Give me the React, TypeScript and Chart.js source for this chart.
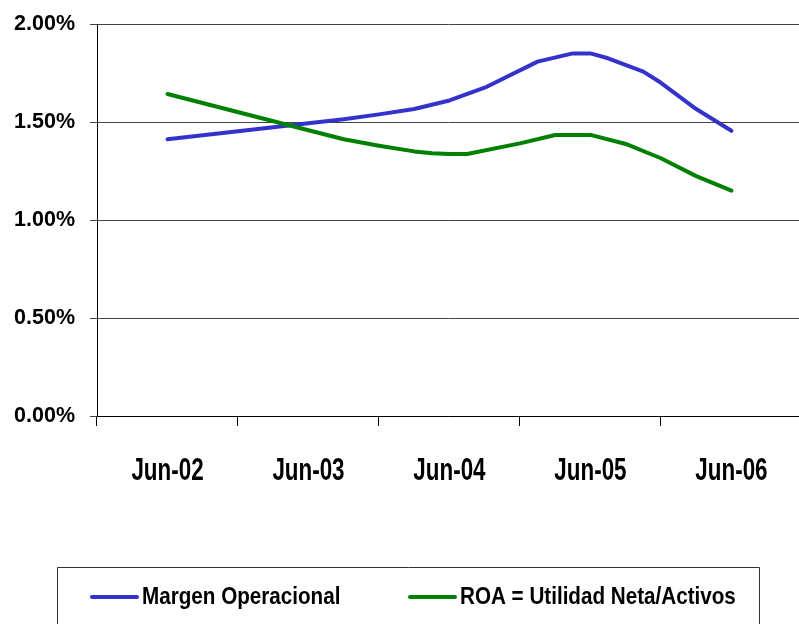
import React, { useEffect, useRef } from 'react';
import { Chart, registerables } from 'chart.js';

Chart.register(...registerables);

// Months counted from Jun-02
const tickMonths = [0, 12, 24, 36, 48];
const tickLabels = ['Jun-02', 'Jun-03', 'Jun-04', 'Jun-05', 'Jun-06'];

const seriesNames = ['Margen Operacional', 'ROA = Utilidad Neta/Activos'];
const seriesColors = ['#3333CC', '#008000'];

const margenMonths = [0, 12, 15, 18, 21, 24, 27, 31.5, 34.5, 36, 37.5, 40.5, 42, 45, 48];
const margenValues = [1.412, 1.494, 1.514, 1.539, 1.566, 1.61, 1.675, 1.808, 1.85, 1.85, 1.825, 1.757, 1.7, 1.566, 1.455];

const roaMonths = [0, 12, 15, 18, 21, 22.5, 24, 25.5, 30, 33, 36, 39, 42, 45, 48];
const roaValues = [1.643, 1.458, 1.412, 1.379, 1.35, 1.34, 1.337, 1.337, 1.391, 1.434, 1.434, 1.388, 1.315, 1.224, 1.15];

const SANS = "'Liberation Sans', Arial, sans-serif";

// x-axis labels, drawn condensed at the scale's tick positions
const condensedAxisLabels = {
  id: 'condensedAxisLabels',
  afterDraw(chart: any) {
    const xs = chart.scales.x;
    const ctx = chart.ctx;
    ctx.save();
    ctx.fillStyle = '#000';
    ctx.font = `bold 32px ${SANS}`;
    ctx.textAlign = 'center';
    ctx.textBaseline = 'alphabetic';
    const baseline = xs.top + 64;
    xs.ticks.forEach((t: any, i: number) => {
      const px = xs.getPixelForValue(t.value);
      ctx.save();
      ctx.translate(px, baseline);
      ctx.scale(0.7, 1);
      ctx.fillText(tickLabels[i], 0, 0);
      ctx.restore();
    });
    ctx.restore();
  },
};

// legend with frame
const framedLegend = {
  id: 'framedLegend',
  afterDraw(chart: any) {
    const ctx = chart.ctx;
    const ca = chart.chartArea;
    const cy = ca.bottom + 181;
    const frameLeft = 57.5;
    const frameRight = 759.5;
    const frameTop = Math.round(cy - 30) + 0.5;
    ctx.save();
    ctx.strokeStyle = '#333';
    ctx.lineWidth = 1;
    ctx.beginPath();
    ctx.moveTo(frameLeft, chart.height + 5);
    ctx.lineTo(frameLeft, frameTop);
    ctx.lineTo(frameRight, frameTop);
    ctx.lineTo(frameRight, chart.height + 5);
    ctx.stroke();

    const itemStarts = [92, 410];
    chart.data.datasets.forEach((ds: any, i: number) => {
      const x0 = itemStarts[i];
      ctx.strokeStyle = ds.borderColor;
      ctx.lineWidth = 4;
      ctx.lineCap = 'round';
      ctx.beginPath();
      ctx.moveTo(x0, cy);
      ctx.lineTo(x0 + 45, cy);
      ctx.stroke();
      ctx.save();
      ctx.fillStyle = '#000';
      ctx.font = `bold 24px ${SANS}`;
      ctx.textAlign = 'left';
      ctx.textBaseline = 'middle';
      ctx.translate(x0 + 50, cy);
      ctx.scale(0.86, 1);
      ctx.fillText(ds.label, 0, 0);
      ctx.restore();
    });
    ctx.restore();
  },
};

export default function App() {
  const ref = useRef<HTMLCanvasElement | null>(null);

  useEffect(() => {
    if (!ref.current) return;
    const chart = new Chart(ref.current, {
      type: 'line',
      data: {
        datasets: [
          {
            label: seriesNames[0],
            data: margenMonths.map((m, i) => ({ x: m, y: margenValues[i] })),
            borderColor: seriesColors[0],
            backgroundColor: seriesColors[0],
            borderWidth: 4,
            borderCapStyle: 'round',
            borderJoinStyle: 'round',
            pointRadius: 0,
            tension: 0,
            order: 2,
          },
          {
            label: seriesNames[1],
            data: roaMonths.map((m, i) => ({ x: m, y: roaValues[i] })),
            borderColor: seriesColors[1],
            backgroundColor: seriesColors[1],
            borderWidth: 4,
            borderCapStyle: 'round',
            borderJoinStyle: 'round',
            pointRadius: 0,
            tension: 0,
            order: 1,
          },
        ],
      },
      options: {
        animation: false,
        responsive: false,
        devicePixelRatio: 1,
        layout: { padding: { top: 24, left: 0, right: 0, bottom: 0 } },
        plugins: {
          tooltip: { enabled: false },
          legend: { display: false },
        },
        scales: {
          x: {
            type: 'linear',
            min: -6,
            max: 53.75,
            afterBuildTicks: (s: any) => {
              s.ticks = tickMonths.map((v) => ({ value: v }));
            },
            afterFit: (s: any) => {
              s.height = 208;
              s.paddingLeft = 0;
              s.paddingRight = 0;
            },
            ticks: { display: false },
            grid: {
              offset: true,
              drawOnChartArea: false,
              tickLength: 10,
              color: '#000',
            },
            border: { color: '#000', width: 1 },
          },
          y: {
            min: 0,
            max: 2,
            afterFit: (s: any) => {
              s.width = 97;
              s.paddingTop = 0;
              s.paddingBottom = 0;
            },
            ticks: {
              stepSize: 0.5,
              padding: 15,
              color: '#000',
              font: { family: SANS, size: 21.5, weight: 'bold' },
              callback: (v: any) => Number(v).toFixed(2) + '%',
            },
            grid: { color: '#444', tickLength: 7, lineWidth: 1 },
            border: { color: '#000', width: 1 },
          },
        },
      },
      plugins: [condensedAxisLabels, framedLegend],
    } as any);
    return () => chart.destroy();
  }, []);

  return (
    <div style={{ position: 'fixed', left: 0, top: 0, width: 799, height: 624, overflow: 'hidden', background: '#fff' }}>
      <canvas ref={ref} width={799} height={624} style={{ display: 'block', width: 799, height: 624 }} />
    </div>
  );
}
